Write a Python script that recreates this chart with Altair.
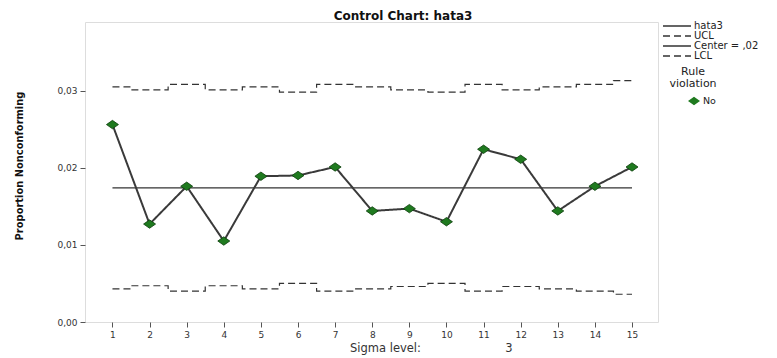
import altair as alt
import pandas as pd

# ---- data ----
samples = list(range(1, 16))
hata3 = [0.0256, 0.0127, 0.0176, 0.0105, 0.0189, 0.0190, 0.0201, 0.0144,
         0.0147, 0.0130, 0.0224, 0.0211, 0.0144, 0.0176, 0.0201]
ucl = [0.0305, 0.0301, 0.0308, 0.0301, 0.0305, 0.0298, 0.0308, 0.0305,
       0.0301, 0.0298, 0.0308, 0.0301, 0.0305, 0.0308, 0.0313]
lcl = [0.0043, 0.0047, 0.0040, 0.0047, 0.0043, 0.0050, 0.0040, 0.0043,
       0.0046, 0.0050, 0.0040, 0.0046, 0.0043, 0.0040, 0.0036]
center = 0.0174
series_names = ["hata3", "UCL", "Center = ,02", "LCL"]
y_ticks = [0.0, 0.01, 0.02, 0.03]
sigma_level = "3"

FONT = "DejaVu Sans"

# ---- tables ----
obs = pd.DataFrame({"x": samples, "y": hata3, "series": "hata3", "rule": "No"})
limits = pd.concat([
    pd.DataFrame({"x": samples, "y": ucl, "series": "UCL"}),
    pd.DataFrame({"x": samples, "y": [center] * len(samples), "series": "Center = ,02"}),
    pd.DataFrame({"x": samples, "y": lcl, "series": "LCL"}),
])

X = alt.X("x:Q", scale=alt.Scale(domain=[0.26, 15.70], nice=False, zero=False),
          axis=alt.Axis(values=samples, format="d", title=None, grid=False, domain=False,
                        tickColor="#555555", tickSize=5, labelFontSize=9,
                        labelColor="#333333", labelFont=FONT, labelPadding=3))
Y = alt.Y("y:Q", scale=alt.Scale(domain=[0, 0.0389], nice=False),
          axis=alt.Axis(values=y_ticks, title=None, grid=False, domain=False,
                        tickColor="#555555", tickSize=5, labelFontSize=9,
                        labelColor="#333333", labelFont=FONT, labelPadding=3,
                        labelExpr="replace(format(datum.value, '.2f'), '.', ',')"))

dash_scale = alt.Scale(domain=series_names, range=[[1, 0], [7, 4], [1, 0], [7, 4]])
line_legend = alt.Legend(title=None, orient="none", legendX=577, legendY=-1,
                         labelFontSize=10, labelFont=FONT, labelColor="#222222",
                         symbolType="stroke", symbolSize=784, symbolStrokeWidth=1.3,
                         symbolStrokeColor="#333333", rowPadding=0, clipHeight=10,
                         labelOffset=2, padding=0)

limit_lines = alt.Chart(limits).mark_line(interpolate="step", color="#333333", strokeWidth=1.2).encode(
    x=X, y=Y,
    strokeDash=alt.StrokeDash("series:N", scale=dash_scale, legend=line_legend),
    detail="series:N",
)

obs_line = alt.Chart(obs).mark_line(color="#3a3a3a", strokeWidth=2).encode(
    x=X, y=Y,
    strokeDash=alt.StrokeDash("series:N", scale=dash_scale, legend=line_legend),
)

diamond = "M-1,0L0,-0.7L1,0L0,0.7Z"
points = alt.Chart(obs).mark_point(filled=True, fill="#1f7a1f", stroke="#0b3d0b",
                                   strokeWidth=0.8, opacity=1, size=144).encode(
    x=X, y=Y,
    shape=alt.Shape("rule:N", scale=alt.Scale(domain=["No"], range=[diamond]),
                    legend=alt.Legend(title=["Rule", "violation"], orient="none",
                                      legendX=584, legendY=44, titleFontSize=11,
                                      titleFontWeight="normal", titleFont=FONT,
                                      titleColor="#222222", titleAlign="center",
                                      titleAnchor="middle", titleLineHeight=12,
                                      titlePadding=5, labelFontSize=9.5,
                                      labelFont=FONT, labelColor="#222222",
                                      symbolFillColor="#1f7a1f", symbolStrokeColor="#0b3d0b",
                                      symbolSize=144, symbolOffset=16, labelOffset=2,
                                      padding=0)),
)

title_df = pd.DataFrame({"t": ["Control Chart: hata3"]})
title = alt.Chart(title_df).mark_text(font=FONT, fontWeight="bold", fontSize=12,
                                      color="#111111", baseline="alphabetic").encode(
    text="t:N", x=alt.value(318), y=alt.value(-2))

ytitle_df = pd.DataFrame({"t": ["Proportion Nonconforming"]})
ytitle = alt.Chart(ytitle_df).mark_text(font="DejaVu Sans Condensed, DejaVu Sans",
                                        fontWeight="bold", fontSize=11, color="#111111",
                                        angle=270, baseline="middle").encode(
    text="t:N", x=alt.value(-65), y=alt.value(144))

sig_df = pd.DataFrame({"t": ["Sigma level:"]})
sig = alt.Chart(sig_df).mark_text(font=FONT, fontSize=11.5, color="#333333",
                                  align="left", baseline="middle").encode(
    text="t:N", x=alt.value(265), y=alt.value(327))
sig3_df = pd.DataFrame({"t": [sigma_level]})
sig3 = alt.Chart(sig3_df).mark_text(font=FONT, fontSize=11.5, color="#333333",
                                    align="center", baseline="middle").encode(
    text="t:N", x=alt.value(424), y=alt.value(327))

chart = alt.layer(limit_lines, obs_line, points, title, ytitle, sig, sig3).properties(
    width=573, height=300,
    autosize=alt.AutoSizeParams(type="none"),
    padding={"left": 77, "top": 14, "right": 110, "bottom": 38},
).configure_view(fill="#F0F0F0", stroke="#6a6a6a", strokeWidth=2).configure(background="white")

chart.save("out.html", embed_options={"renderer": "svg", "actions": False})
